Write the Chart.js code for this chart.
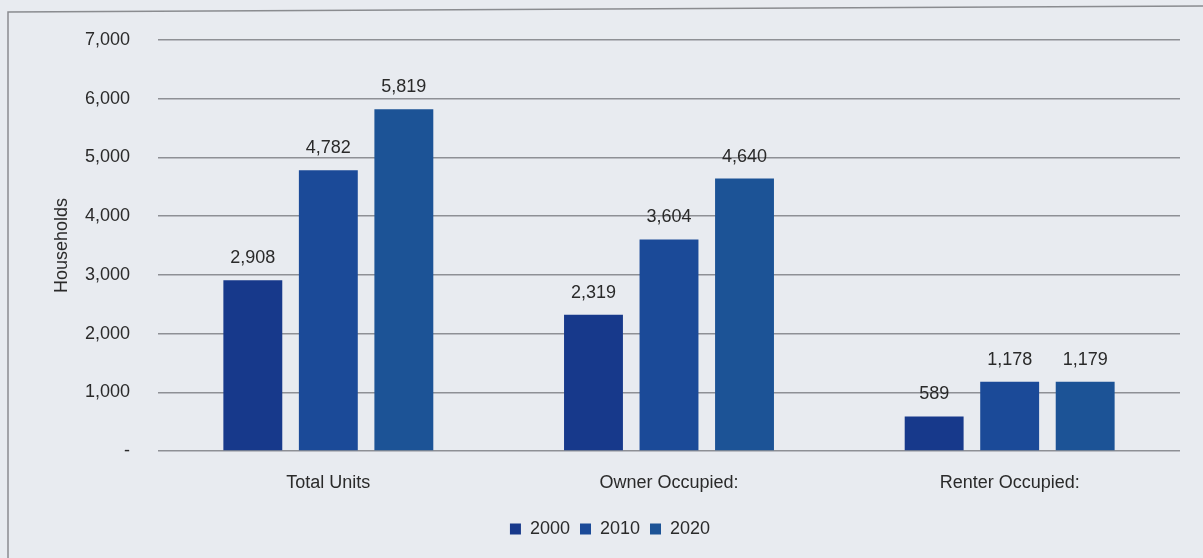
<!DOCTYPE html>
<html>
<head>
<meta charset="utf-8">
<script src="https://cdn.jsdelivr.net/npm/chart.js@4/dist/chart.umd.min.js"></script>
<style>
	html, body { margin: 0; padding: 0; background: #e8ebf0; }
	#wrap { width: 1203px; height: 558px; position: relative; }
</style>
</head>
<body>
<div id="wrap"><canvas id="chart"></canvas></div>
<script>
const categories = ["Total Units", "Owner Occupied:", "Renter Occupied:"]
const years = ["2000", "2010", "2020"]
const units2000 = [2908, 2319, 589]
const units2010 = [4782, 3604, 1178]
const units2020 = [5819, 4640, 1179]
const yTicks = [0, 1000, 2000, 3000, 4000, 5000, 6000, 7000]
const barColors = ["#17398b", "#1b4a98", "#1c5396"]

const FONT = "'Liberation Sans Narrow', 'Liberation Sans', Arial, sans-serif"
const TEXT = "#2a2a2a"

const fmt = v => v.toLocaleString("en-US")

// frame round the chart, as in the scanned page
const framePlugin = {
	id: "frame",
	beforeDraw(chart) {
		const ctx = chart.ctx
		ctx.save()
		ctx.strokeStyle = "#8a8c90"
		ctx.lineWidth = 1.5
		ctx.beginPath()
		ctx.moveTo(8, 558)
		ctx.lineTo(8, 12)
		ctx.lineTo(1203, 6)
		ctx.stroke()
		ctx.restore()
	},
}

// value labels over every bar
const valueLabels = {
	id: "valueLabels",
	afterDatasetsDraw(chart) {
		const ctx = chart.ctx
		ctx.save()
		ctx.font = "18px " + FONT
		ctx.fillStyle = TEXT
		ctx.textAlign = "center"
		ctx.textBaseline = "bottom"
		chart.data.datasets.forEach((ds, i) => {
			chart.getDatasetMeta(i).data.forEach((bar, j) => {
				ctx.fillText(fmt(ds.data[j]), bar.x, bar.y - 13)
			})
		})
		ctx.restore()
	},
}

const config = {
	type: "bar",
	data: {
		labels: categories,
		datasets: [units2000, units2010, units2020].map((d, i) => ({
			label: years[i],
			data: d,
			backgroundColor: barColors[i],
			barPercentage: 0.78,
			categoryPercentage: 0.665,
		})),
	},
	options: {
		responsive: true,
		maintainAspectRatio: false,
		animation: false,
		layout: { padding: { left: 40, right: 23, top: 40, bottom: 10 } },
		plugins: {
			legend: {
				position: "bottom",
				labels: {
					boxWidth: 11,
					boxHeight: 11,
					padding: 10,
					color: TEXT,
					font: { family: FONT, size: 18 },
				},
			},
			tooltip: { enabled: false },
		},
		scales: {
			x: {
				grid: { display: false },
				border: { display: false },
				ticks: { color: TEXT, padding: 13, font: { family: FONT, size: 18 } },
				afterFit: s => { s.height = 59 },
			},
			y: {
				min: 0,
				max: 7000,
				afterBuildTicks: s => { s.ticks = yTicks.map(v => ({ value: v })) },
				grid: { color: "#8e9095", lineWidth: 1.5, drawTicks: false },
				border: { display: false },
				ticks: {
					color: TEXT,
					padding: 28,
					font: { family: FONT, size: 18 },
					callback: v => v === 0 ? "-" : fmt(v),
				},
				title: {
					display: true,
					text: "Households",
					color: TEXT,
					padding: { top: 11, bottom: 0 },
					font: { family: FONT, size: 18 },
				},
				afterFit: s => { s.width = 118 },
			},
		},
	},
	plugins: [framePlugin, valueLabels],
}

window.onload = () => {
	new Chart(document.getElementById("chart"), config)
}
</script>
</body>
</html>
